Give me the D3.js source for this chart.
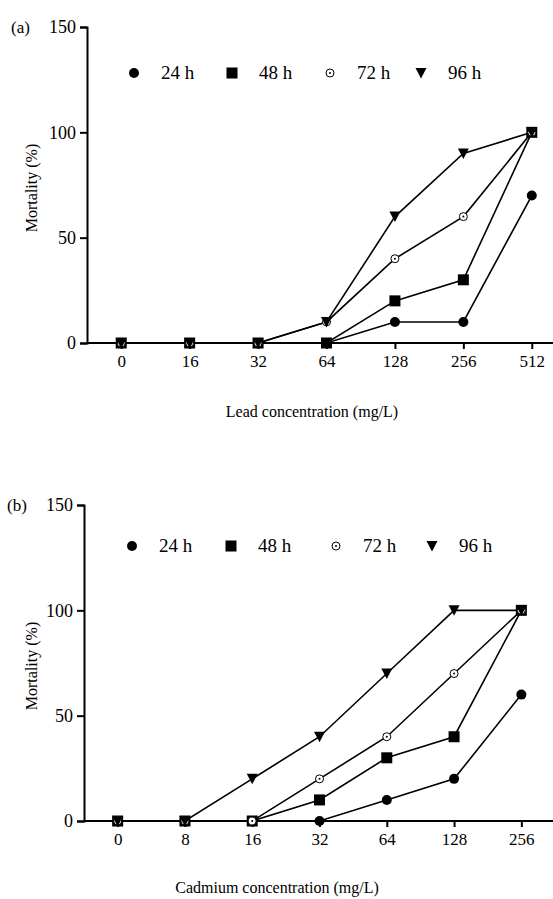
<!DOCTYPE html>
<html>
<head>
<meta charset="utf-8">
<script src="https://cdn.jsdelivr.net/npm/d3@7"></script>
</head>
<body style="margin:0">
<script>
// data
const seriesNames = ['24 h', '48 h', '72 h', '96 h']
const yTicks = [0, 50, 100, 150]

const leadConc = ['0', '16', '32', '64', '128', '256', '512']
const lead24 = [0, 0, 0, 0, 10, 10, 70]
const lead48 = [0, 0, 0, 0, 20, 30, 100]
const lead72 = [0, 0, 0, 10, 40, 60, 100]
const lead96 = [0, 0, 0, 10, 60, 90, 100]

const cadConc = ['0', '8', '16', '32', '64', '128', '256']
const cad24 = [0, 0, 0, 0, 10, 20, 60]
const cad48 = [0, 0, 0, 10, 30, 40, 100]
const cad72 = [0, 0, 0, 20, 40, 70, 100]
const cad96 = [0, 0, 20, 40, 70, 100, 100]

const width = 553, height = 899
const font = '"Liberation Serif"'
const myfont = {tick: 17, ytick: 18, title: 16, legend: 19}

const svg = d3.select('body').append('svg')
  .attr('width', width)
  .attr('height', height)
  .style('display', 'block')
  .style('font-family', font)

// put font on a text selection
function setFont(sel, size) {
  return sel.style('font-family', font).style('font-size', size + 'px').attr('fill', '#000')
}

// marker drawing, one per series
function drawMarker(g, kind, x, y) {
  if (kind === 0) {
    g.append('circle').attr('cx', x).attr('cy', y).attr('r', 5).attr('fill', '#000')
  } else if (kind === 1) {
    g.append('rect').attr('x', x - 5.5).attr('y', y - 5.5).attr('width', 11).attr('height', 11).attr('fill', '#000')
  } else if (kind === 2) {
    g.append('circle').attr('cx', x).attr('cy', y).attr('r', 4).attr('fill', '#fff').attr('stroke', '#000').attr('stroke-width', 1)
    g.append('circle').attr('cx', x).attr('cy', y).attr('r', 1).attr('fill', '#000')
  } else {
    g.append('path').attr('d', `M${x - 5.5},${y - 5} L${x + 5.5},${y - 5} L${x},${y + 5.5} Z`).attr('fill', '#000')
  }
}

function panel(opt) {
  const x = d3.scalePoint().domain(opt.cats).range([opt.left, opt.right]).padding(0.5)
  const y = d3.scaleLinear().domain([0, 150]).range([opt.bottom, opt.top])
  const g = svg.append('g')

  // series lines
  opt.series.forEach(vals => {
    const line = d3.line().x((d, j) => x(opt.cats[j])).y(d => y(d))
    g.append('path').datum(vals)
      .attr('d', line)
      .attr('fill', 'none')
      .attr('stroke', '#000')
      .attr('stroke-width', 1.6)
  })

  // axes
  const yAxis = d3.axisLeft(y).tickValues(yTicks).tickSize(7).tickPadding(4)
  g.append('g').attr('transform', `translate(${opt.left},0)`)
    .call(yAxis)
    .attr('font-family', null)
    .call(a => a.selectAll('path, line').attr('stroke', '#000').attr('stroke-width', 2))
    .call(a => setFont(a.selectAll('text'), myfont.ytick))
  const xAxis = d3.axisBottom(x).tickSize(6).tickPadding(6)
  g.append('g').attr('transform', `translate(0,${opt.bottom})`)
    .call(xAxis)
    .attr('font-family', null)
    .call(a => a.select('.domain').attr('d', `M${opt.left},0H${opt.right}`))
    .call(a => a.selectAll('path, line').attr('stroke', '#000').attr('stroke-width', 2))
    .call(a => setFont(a.selectAll('text'), myfont.tick))

  // markers
  opt.series.forEach((vals, i) => {
    vals.forEach((v, j) => drawMarker(g, i, x(opt.cats[j]), y(v)))
  })

  // labels
  setFont(g.append('text'), myfont.tick)
    .attr('x', opt.tagX).attr('y', opt.top + 6).text(opt.tag)
  setFont(g.append('text'), myfont.title)
    .attr('transform', `translate(37,${(opt.top + opt.bottom) / 2 + 3}) rotate(-90)`)
    .attr('text-anchor', 'middle')
    .text('Mortality (%)')
  setFont(g.append('text'), myfont.title)
    .attr('x', opt.xLabelX).attr('y', opt.xLabelY)
    .attr('text-anchor', 'middle')
    .text(opt.xLabel)

  // legend
  seriesNames.forEach((name, i) => {
    const lx = opt.legendX[i]
    drawMarker(g, i, lx, opt.legendY)
    setFont(g.append('text'), myfont.legend)
      .attr('x', lx + 27).attr('y', opt.legendY + 6)
      .text(name)
  })
}

panel({
  tag: '(a)', tagX: 11, cats: leadConc, series: [lead24, lead48, lead72, lead96],
  left: 87, right: 566, top: 27, bottom: 343,
  xLabel: 'Lead concentration (mg/L)', xLabelX: 312, xLabelY: 417,
  legendX: [134, 232, 330, 421], legendY: 73
})

panel({
  tag: '(b)', tagX: 7, cats: cadConc, series: [cad24, cad48, cad72, cad96],
  left: 84, right: 555, top: 505, bottom: 821,
  xLabel: 'Cadmium concentration (mg/L)', xLabelX: 277, xLabelY: 893,
  legendX: [132, 231, 336, 432], legendY: 546
})
</script>
</body>
</html>
